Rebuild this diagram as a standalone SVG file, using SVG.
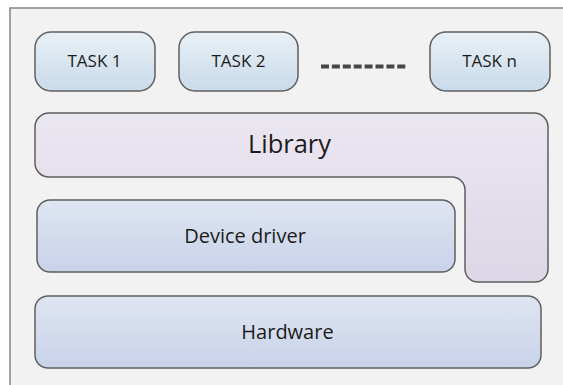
<svg xmlns="http://www.w3.org/2000/svg" width="563" height="385" viewBox="0 0 563 385">
  <defs>
    <linearGradient id="gTask" x1="0" y1="0" x2="0" y2="1">
      <stop offset="0" stop-color="#e9f0f6"/>
      <stop offset="1" stop-color="#c9dbea"/>
    </linearGradient>
    <linearGradient id="gLib" x1="0" y1="0" x2="0" y2="1">
      <stop offset="0" stop-color="#ebe7f1"/>
      <stop offset="1" stop-color="#ddd6e6"/>
    </linearGradient>
    <linearGradient id="gLayer" x1="0" y1="0" x2="0" y2="1">
      <stop offset="0" stop-color="#dfe5f1"/>
      <stop offset="1" stop-color="#c8d2ea"/>
    </linearGradient>
    <style>
      .box { stroke: #5f5f5f; stroke-width: 1.5; }
      .lbl { font-family: "Open Sans", "Liberation Sans", sans-serif; fill: #1c1c1c; text-anchor: middle; }
    </style>
  </defs>

  <rect width="563" height="385" fill="#ffffff"/>
  <!-- outer frame -->
  <rect id="frame" x="10" y="8" width="570" height="390" fill="#f2f2f2" stroke="#858585" stroke-width="1.5"/>

  <g id="task1">
    <rect class="box" x="35" y="32" width="120" height="59" rx="16" fill="url(#gTask)"/>
    <text class="lbl" x="94.5" y="67" font-size="17">TASK 1</text>
  </g>
  <g id="task2">
    <rect class="box" x="179" y="32" width="119" height="59" rx="16" fill="url(#gTask)"/>
    <text class="lbl" x="238.5" y="67" font-size="17">TASK 2</text>
  </g>
  <g id="taskn">
    <rect class="box" x="430" y="32" width="120" height="59" rx="16" fill="url(#gTask)"/>
    <text class="lbl" x="489.5" y="67" font-size="17">TASK n</text>
  </g>

  <g id="connectors">
    <line x1="321" y1="66.5" x2="407" y2="66.5" stroke="#474747" stroke-width="4" stroke-dasharray="8 2.9"/>
  </g>

  <g id="library">
    <path class="box" fill="url(#gLib)" d="M49 113 H534 A14 14 0 0 1 548 127 V269 A13 13 0 0 1 535 282 H478 A13 13 0 0 1 465 269 V190 A13 13 0 0 0 452 177 H49 A14 14 0 0 1 35 163 V127 A14 14 0 0 1 49 113 Z"/>
    <text class="lbl" x="289.5" y="153" font-size="25.5">Library</text>
  </g>

  <g id="device-driver">
    <rect class="box" x="37" y="200" width="418" height="72" rx="13" fill="url(#gLayer)"/>
    <text class="lbl" x="245" y="243" font-size="20">Device driver</text>
  </g>

  <g id="hardware">
    <rect class="box" x="35" y="296" width="506" height="72" rx="13" fill="url(#gLayer)"/>
    <text class="lbl" x="287.5" y="339" font-size="20">Hardware</text>
  </g>
</svg>
